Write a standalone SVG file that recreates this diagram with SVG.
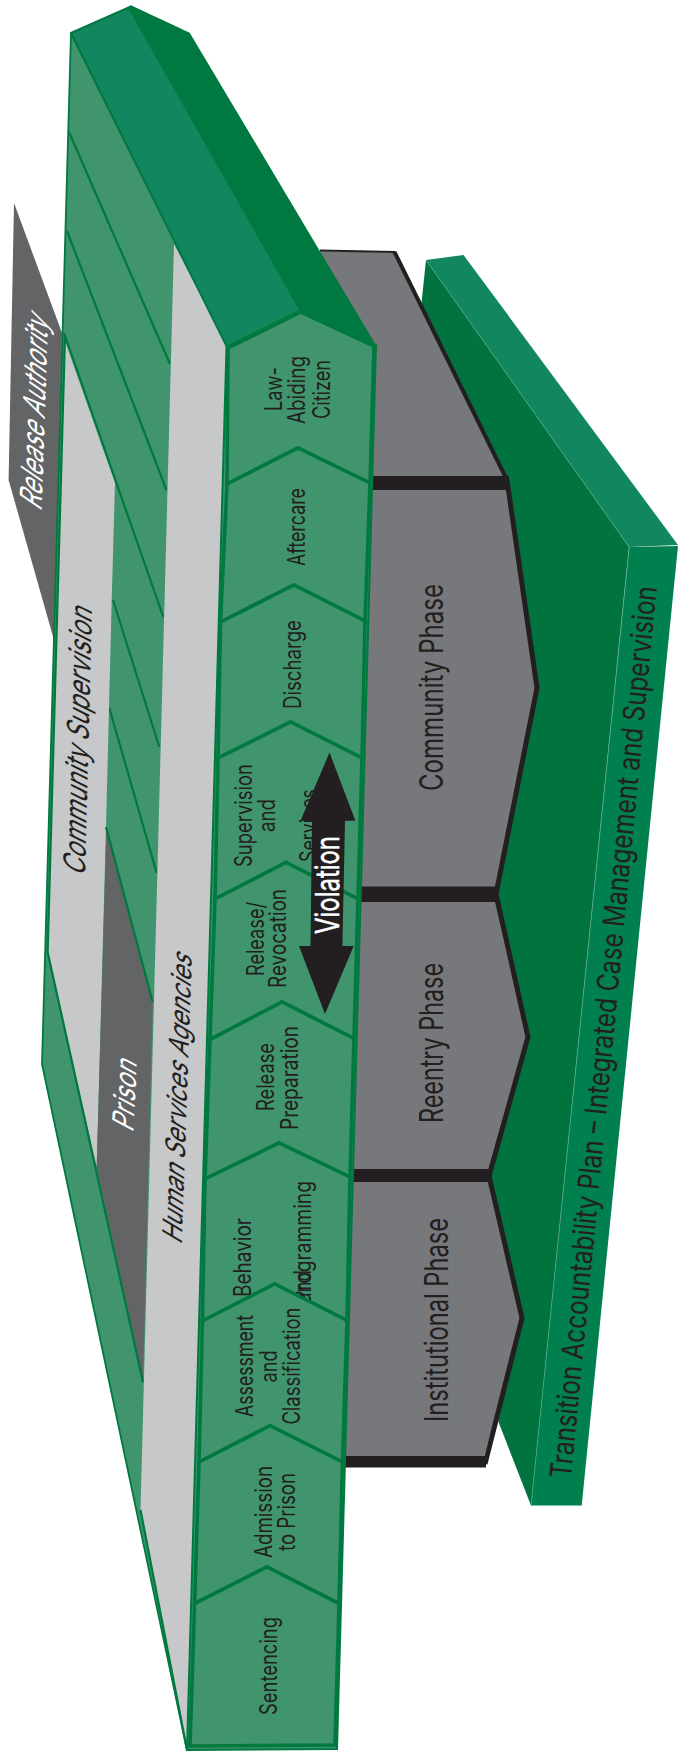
<svg xmlns="http://www.w3.org/2000/svg" width="678" height="1754" viewBox="0 0 678 1754">
<style>
text{font-family:Inter,"Liberation Sans",Arial,sans-serif;fill:#231f20}
.s{font-size:24px}
.p{font-size:32px}
.w{fill:#fff}
.hex{fill:#40956e;stroke:#007940;stroke-width:3.6;stroke-linejoin:miter}
.ln{fill:none;stroke:#007940;stroke-width:2.2}
.gr{fill:#77787b}
.k{fill:#231f20}
.o{fill:none;stroke:#231f20;stroke-linejoin:miter}
</style>
<rect width="678" height="1754" fill="#fff"/>
<g id="release-authority">
<polygon points="14,203 62,333 54,640 8.6,480" fill="#636466"/>
<text class="w" font-size="30" textLength="192" lengthAdjust="spacingAndGlyphs" transform="matrix(0.034 -1 1 0.69 41.5 512)">Release Authority</text>
</g>
<g id="wall">
<polygon points="71,33 42,1064 187,1750 228,348" fill="#40956e" stroke="#007940" stroke-width="1.8" stroke-linejoin="round"/>
<path class="ln" d="M69,132 170,364M67,231 166.5,490M64,333 163.3,617M113,600 159.3,747M109.3,708 156.7,873"/>
</g>
<g id="community-supervision">
<polygon points="65,341 115,483 111.7,600 109,707 106,827 96.7,1167 47.6,952" fill="#c7c8ca"/>
<path class="ln" d="M65,335 47.6,952"/>
<text font-size="30" textLength="267" lengthAdjust="spacingAndGlyphs" transform="matrix(0.026 -1 1 0.5 85 877)">Community Supervision</text>
</g>
<g id="prison">
<polygon points="106.5,827 152.7,1002 143,1380 96.7,1167" fill="#636466"/>
<path class="ln" d="M106,827 152.7,1002M47.6,952 143,1382"/>
<text class="w" font-size="29" textLength="70" lengthAdjust="spacingAndGlyphs" transform="matrix(0.05 -1 1 0.53 133.3 1133)">Prison</text>
</g>
<g id="human-services-agencies">
<polygon points="174,244 228,348 190,1746 186,1746 140.5,1510" fill="#c7c8ca"/>
<path class="ln" d="M140.5,1510 187,1750"/>
<text font-size="27" textLength="288" lengthAdjust="spacingAndGlyphs" transform="matrix(0.035 -1 1 0.6 181.7 1245)">Human Services Agencies</text>
</g>
<g id="plank">
<polygon points="426,260 421.6,302 498.5,1422 531,1505.5 629,547" fill="#00733e"/>
<polygon points="426,260 463.5,255 678,545 629,547" fill="#12875f"/>
<polygon points="629.3,547 678,546 581.7,1505.5 531,1505.5" fill="#007f4f"/>
<path d="M426,260 629.3,547 531,1505.5" fill="none" stroke="#4fa583" stroke-width=".7"/>
<text font-size="22" textLength="896" lengthAdjust="spacingAndGlyphs" transform="matrix(0.0958 -0.9954 1.354 0.13 571 1479)">Transition Accountability Plan – Integrated Case Management and Supervision</text>
</g>
<g id="phase-top">
<polygon class="gr" points="320,251 395.6,252.5 506,478 373,478"/>
<polyline class="o" stroke-width="2" points="320,250.5 395,252"/>
<polyline class="o" stroke-width="4" points="394.5,252 506,478"/>
<rect class="k" x="365" y="476" width="144" height="14"/>
</g>
<g id="community-phase">
<polygon class="gr" points="365,490 507,490 537,688 497,887 355,887"/>
<polyline class="o" stroke-width="5" points="507,480 537,688 496,894"/>
<rect class="k" x="355" y="886.5" width="142" height="15.5"/>
<text class="p" textLength="207" lengthAdjust="spacingAndGlyphs" transform="translate(443 791) rotate(-90)">Community Phase</text>
</g>
<g id="reentry-phase">
<polygon class="gr" points="355,902 495,902 528,1037 491,1170 345,1170"/>
<polyline class="o" stroke-width="5" points="496,894 528,1037 489,1176"/>
<rect class="k" x="345" y="1169" width="145" height="14"/>
<text class="p" textLength="160" lengthAdjust="spacingAndGlyphs" transform="translate(443 1123) rotate(-90)">Reentry Phase</text>
</g>
<g id="institutional-phase">
<polygon class="gr" points="340,1182 489,1182 522,1318 484,1457 335,1457"/>
<polyline class="o" stroke-width="5" points="489,1176 522,1318 485,1464"/>
<rect class="k" x="335" y="1456" width="151" height="11.5"/>
<text class="p" textLength="204" lengthAdjust="spacingAndGlyphs" transform="translate(447.5 1422) rotate(-90)">Institutional Phase</text>
</g>
<g id="roof">
<polygon points="71,33 131,6.5 301,311 227,347" fill="#12875f" stroke="#007940" stroke-width="2" stroke-linejoin="round"/>
<polygon points="129,8 131,6.5 189,33.5 375,345.5 301,311" fill="#007940" stroke="#007940" stroke-width="2"/>
</g>
<g id="band-outline">
<polygon points="226.5,347 301,310 376,345 337,1749 187,1750" fill="#40956e" stroke="#007940" stroke-width="2"/>
</g>
<g id="law-abiding-citizen">
<polygon class="hex" points="228,348 301,312 374,346 370,483 298,448 227,484"/>
<text class="s" textLength="44" lengthAdjust="spacingAndGlyphs" transform="translate(282 411) rotate(-90)">Law-</text>
<text class="s" textLength="68" lengthAdjust="spacingAndGlyphs" transform="translate(305 424) rotate(-90)">Abiding</text>
<text class="s" textLength="59" lengthAdjust="spacingAndGlyphs" transform="translate(330 419) rotate(-90)">Citizen</text>
</g>
<g id="aftercare">
<polygon class="hex" points="227,484 298,448 370,483 365,621 294,585 220.5,622"/>
<text class="s" textLength="78" lengthAdjust="spacingAndGlyphs" transform="translate(305 566) rotate(-90)">Aftercare</text>
</g>
<g id="discharge">
<polygon class="hex" points="220.5,622 294,585 365,621 362,758 290.6,722 218,758"/>
<text class="s" textLength="89" lengthAdjust="spacingAndGlyphs" transform="translate(301 709) rotate(-90)">Discharge</text>
</g>
<g id="supervision-and-services">
<polygon class="hex" points="218,758 290.6,722 362,758 358,899 286,862.5 215,899"/>
<text class="s" textLength="103" lengthAdjust="spacingAndGlyphs" transform="translate(252 867) rotate(-90)">Supervision</text>
<text class="s" textLength="33" lengthAdjust="spacingAndGlyphs" transform="translate(275.4 832) rotate(-90)">and</text>
<text class="s" textLength="73" lengthAdjust="spacingAndGlyphs" transform="translate(317 862) rotate(-90)">Services</text>
</g>
<g id="release-revocation">
<polygon class="hex" points="215,899 286,862.5 358,899 354,1038.5 282,1002 210,1039.6"/>
<text class="s" textLength="74" lengthAdjust="spacingAndGlyphs" transform="translate(264 976) rotate(-90)">Release/</text>
<text class="s" textLength="99" lengthAdjust="spacingAndGlyphs" transform="translate(286 988) rotate(-90)">Revocation</text>
</g>
<g id="release-preparation">
<polygon class="hex" points="210,1039.6 282,1002 354,1038.5 350,1177 279,1143 205,1179"/>
<text class="s" textLength="68" lengthAdjust="spacingAndGlyphs" transform="translate(273.7 1111) rotate(-90)">Release</text>
<text class="s" textLength="104" lengthAdjust="spacingAndGlyphs" transform="translate(297.5 1130) rotate(-90)">Preparation</text>
</g>
<g id="behavior-and-programming">
<polygon class="hex" points="205,1179 279,1143 350,1177 347,1320.5 274.6,1284 202.4,1321"/>
<text class="s" textLength="79" lengthAdjust="spacingAndGlyphs" transform="translate(250.8 1297) rotate(-90)">Behavior</text>
<text class="s" textLength="33" lengthAdjust="spacingAndGlyphs" transform="translate(311 1303) rotate(-90)">and</text>
<text class="s" textLength="122" lengthAdjust="spacingAndGlyphs" transform="translate(311 1303) rotate(-90)">Programming</text>
</g>
<g id="assessment-and-classification">
<polygon class="hex" points="202.4,1321 274.6,1284 347,1320.5 342.5,1462 270,1425.7 199,1462"/>
<text class="s" textLength="102" lengthAdjust="spacingAndGlyphs" transform="translate(253 1417) rotate(-90)">Assessment</text>
<text class="s" textLength="32" lengthAdjust="spacingAndGlyphs" transform="translate(276.7 1382.5) rotate(-90)">and</text>
<text class="s" textLength="117" lengthAdjust="spacingAndGlyphs" transform="translate(299.6 1424.6) rotate(-90)">Classification</text>
</g>
<g id="admission-to-prison">
<polygon class="hex" points="199,1462 270,1425.7 342.5,1462 339,1603.6 267,1567 194.6,1603.6"/>
<text class="s" textLength="92" lengthAdjust="spacingAndGlyphs" transform="translate(272.4 1558) rotate(-90)">Admission</text>
<text class="s" textLength="78" lengthAdjust="spacingAndGlyphs" transform="translate(295 1551) rotate(-90)">to Prison</text>
</g>
<g id="sentencing">
<polygon class="hex" points="194.6,1603.6 267,1567 339,1603.6 335,1745 190,1746"/>
<text class="s" textLength="98" lengthAdjust="spacingAndGlyphs" transform="translate(276.7 1715) rotate(-90)">Sentencing</text>
</g>
<g id="connectors">
<polygon class="k" points="329.5,752.6 355.4,820.7 345,820.7 342.4,946 353.7,946 325,1014 299,946 310.5,946 312,820.7 300.5,820.7"/>
</g>
<g id="violation-label">
<text class="w" font-size="33" stroke="#fff" stroke-width=".5" textLength="98" lengthAdjust="spacingAndGlyphs" transform="translate(339.4 934) rotate(-90)">Violation</text>
</g>
</svg>
